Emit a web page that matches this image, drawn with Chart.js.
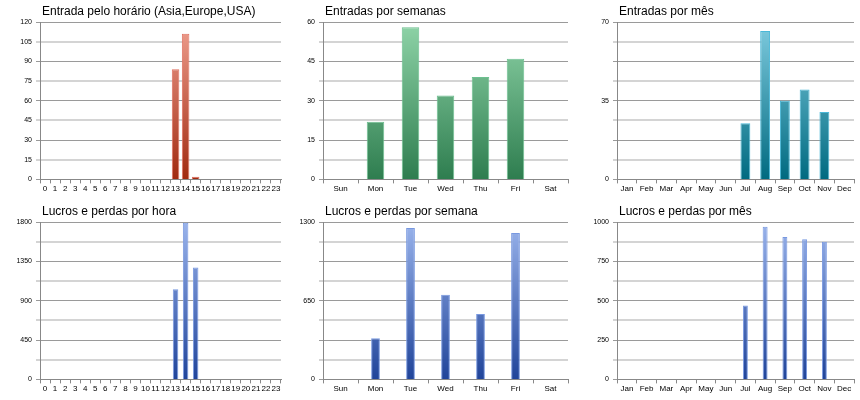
<!DOCTYPE html>
<html><head><meta charset="utf-8">
<script src="https://cdn.jsdelivr.net/npm/chart.js@4/dist/chart.umd.min.js"></script>
<style>
body{margin:0;background:#fff;width:860px;height:400px;position:relative;font-family:"DejaVu Sans",sans-serif}
.c{position:absolute;width:287px;height:200px}
</style></head><body>
<div class="c" style="left:0;top:0"><canvas id="c1"></canvas></div>
<div class="c" style="left:287px;top:0"><canvas id="c2"></canvas></div>
<div class="c" style="left:573px;top:0"><canvas id="c3"></canvas></div>
<div class="c" style="left:0;top:200px"><canvas id="c4"></canvas></div>
<div class="c" style="left:287px;top:200px"><canvas id="c5"></canvas></div>
<div class="c" style="left:573px;top:200px"><canvas id="c6"></canvas></div>
<script>
const hours = Array.from({length:24},(_,i)=>String(i));
const days = ['Sun','Mon','Tue','Wed','Thu','Fri','Sat'];
const months = ['Jan','Feb','Mar','Apr','May','Jun','Jul','Aug','Sep','Oct','Nov','Dec'];
const entriesHour = [0,0,0,0,0,0,0,0,0,0,0,0,0,84,111,2,0,0,0,0,0,0,0,0];
const entriesWeek = [0,22,58,32,39,46,0];
const entriesMonth = [0,0,0,0,0,0,25,66,35,40,30,0];
const profitHour = [0,0,0,0,0,0,0,0,0,0,0,0,0,1030,1790,1280,0,0,0,0,0,0,0,0];
const profitWeek = [0,340,1250,700,540,1210,0];
const profitMonth = [0,0,0,0,0,0,470,970,905,890,875,0];

function grad(top,bot,border){
  return {
    bg:(ctx)=>{const a=ctx.chart.chartArea;if(!a)return bot;const g=ctx.chart.ctx.createLinearGradient(0,a.bottom,0,a.top);g.addColorStop(0,bot);g.addColorStop(1,top);return g;},
    border
  };
}
const titlePlugin={id:'ttl',afterDraw(chart,args,opts){const c=chart.ctx;c.save();c.font='12px "Liberation Sans", sans-serif';c.fillStyle='#000';c.textBaseline='alphabetic';c.fillText(opts.text,chart.chartArea.left+2,15);c.restore();}};
function make(id,title,labels,data,max,step,labelEvery,col,barPct,yw){
  new Chart(document.getElementById(id),{
    type:'bar',
    plugins:[titlePlugin],
    data:{labels,datasets:[{data,backgroundColor:col.bg,borderColor:col.border,borderWidth:1,barPercentage:barPct,categoryPercentage:1}]},
    options:{animation:false,responsive:true,maintainAspectRatio:false,
      layout:{padding:{right:6,left:0,bottom:5,top:22}},
      plugins:{legend:{display:false},tooltip:{enabled:false},title:{display:false},ttl:{text:title}},
      scales:{
        x:{grid:{offset:true,drawOnChartArea:false,color:'#888',tickLength:4},border:{color:'#888'},
           ticks:{color:'#000',font:{family:'Liberation Sans',size:8},maxRotation:0,autoSkip:false,padding:1}},
        y:{min:0,max:max,border:{color:'#888'},
           afterFit:(s)=>{s.width=yw;},
           afterBuildTicks:(s)=>{const t=[];for(let v=0;v<=max+1e-9;v+=step)t.push({value:v});s.ticks=t;},
           grid:{color:(c)=>{const i=Math.round(c.tick.value/step);return i%2===0?'#9a9a9a':'#d4d4d4';},lineWidth:(c)=>{const i=Math.round(c.tick.value/step);return i%2===0?1:2;},tickLength:4},
           ticks:{color:'#000',font:{family:'Liberation Sans',size:7},padding:4,
             callback:(v)=>{const i=Math.round(v/step);return i%labelEvery===0?String(Math.round(v)):'';}}}
      }}
  });
}
make('c1','Entrada pelo horário (Asia,Europe,USA)',hours,entriesHour,120,15,1,grad('#f0a090','#a02a10','#e07060'),0.75,40);
make('c2','Entradas por semanas',days,entriesWeek,60,7.5,2,grad('#8fd4a8','#2e7d4f','#6cc090'),0.5,36);
make('c3','Entradas por mês',months,entriesMonth,70,8.75,4,grad('#80cce0','#006a80','#4ab8d8'),0.5,44);
make('c4','Lucros e perdas por hora',hours,profitHour,1800,225,2,grad('#9ab4ec','#20449a','#7898e0'),0.55,40);
make('c5','Lucros e perdas por semana',days,profitWeek,1300,162.5,4,grad('#9ab4ec','#20449a','#7898e0'),0.25,36);
make('c6','Lucros e perdas por mês',months,profitMonth,1000,125,2,grad('#9ab4ec','#20449a','#7898e0'),0.25,44);
</script></body></html>
